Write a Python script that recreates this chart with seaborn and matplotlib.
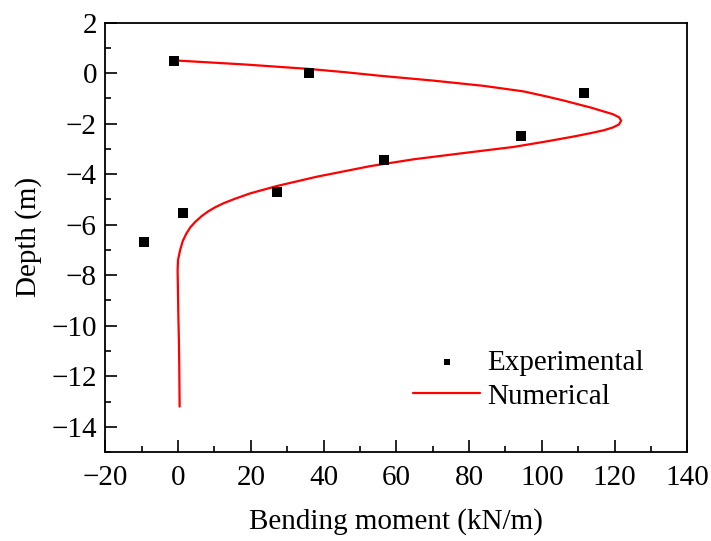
import matplotlib
matplotlib.use("Agg")
import matplotlib.pyplot as plt
import seaborn as sns
import pandas as pd
from matplotlib.ticker import MultipleLocator

# Experimental data
exp_moment = [-1.0, 36.0, 111.5, 94.4, 56.5, 27.1, 1.5, -9.3]
exp_depth = [0.5, 0.0, -0.77, -2.49, -3.45, -4.69, -5.52, -6.70]

# Numerical curve
num_moment = [0.0, 18.0, 36.0, 46.0, 55.5, 70.0, 84.0, 95.0, 101.3, 106.0, 110.5, 113.5, 116.0,
              119.5, 121.3, 121.8, 121.2, 119.5, 117.0, 113.5, 109.0, 101.3, 92.2, 78.0,
              64.7, 52.8, 38.1, 27.1, 19.8, 15.5, 12.5, 10.2, 8.2, 6.5, 4.8, 3.4, 2.3, 1.3, 0.6,
              0.0, -0.1, 0.0, 0.1, 0.25, 0.35, 0.45]
num_depth = [0.5, 0.35, 0.17, 0.04, -0.10, -0.29, -0.50, -0.72, -0.92, -1.08, -1.25, -1.36, -1.47,
             -1.62, -1.75, -1.88, -2.03, -2.15, -2.26, -2.37, -2.50, -2.70, -2.92, -3.17,
             -3.41, -3.68, -4.10, -4.47, -4.76, -4.98, -5.15, -5.31, -5.48, -5.66, -5.88, -6.10, -6.35, -6.65, -7.0,
             -7.4, -7.8, -8.7, -9.6, -10.6, -11.6, -13.2]

x_ticks = [-20, 0, 20, 40, 60, 80, 100, 120, 140]
y_ticks = [-14, -12, -10, -8, -6, -4, -2, 0, 2]

sns.set_theme(style="white")
plt.rcParams['font.family'] = ['Liberation Serif', 'DejaVu Serif']
plt.rcParams['text.color'] = 'black'
plt.rcParams['axes.labelcolor'] = 'black'
plt.rcParams['xtick.color'] = 'black'
plt.rcParams['ytick.color'] = 'black'

FS = 21

fig = plt.figure(figsize=(7.11, 5.41), dpi=100)
ax = fig.add_axes([0.148, 0.1645, 0.9667 - 0.148, 0.958 - 0.1645])

exp_df = pd.DataFrame({"moment": exp_moment, "depth": exp_depth})
num_df = pd.DataFrame({"moment": num_moment, "depth": num_depth})

sns.scatterplot(data=exp_df, x="moment", y="depth", marker="s", color="black",
                s=50, linewidth=0, label="Experimental", ax=ax, zorder=3)
sns.lineplot(data=num_df, x="moment", y="depth", sort=False, estimator=None,
             color="red", linewidth=1.6, label="Numerical", ax=ax, zorder=2)

ax.set_xlim(-20, 140)
ax.set_ylim(-15, 2)
ax.set_xticks(x_ticks)
ax.set_yticks(y_ticks)
ax.xaxis.set_minor_locator(MultipleLocator(10))
ax.yaxis.set_minor_locator(MultipleLocator(1))
ax.tick_params(axis="both", which="major", direction="in", length=8.5, width=1.2,
               labelsize=FS, bottom=True, left=True, top=False, right=False, pad=6,
               colors="black")
ax.tick_params(axis="both", which="minor", direction="in", length=4.5, width=1.2,
               bottom=True, left=True, top=False, right=False)
ax.tick_params(axis="x", which="major", pad=9)
for sp in ax.spines.values():
    sp.set_color("black")
    sp.set_linewidth(1.3)

ax.set_xlabel("Bending moment (kN/m)", fontsize=FS, color="black", labelpad=13)
ax.set_ylabel("Depth (m)", fontsize=FS, color="black", labelpad=7)

leg = ax.legend(loc="center left", bbox_to_anchor=(0.581, 0.2985),
                bbox_transform=fig.transFigure, frameon=False, fontsize=FS,
                handlelength=2.3, handletextpad=0.25, labelspacing=0.25,
                borderpad=0, borderaxespad=0, markerscale=0.6)
for t in leg.get_texts():
    t.set_color("black")

fig.savefig("out.png", dpi=100, facecolor="white")
